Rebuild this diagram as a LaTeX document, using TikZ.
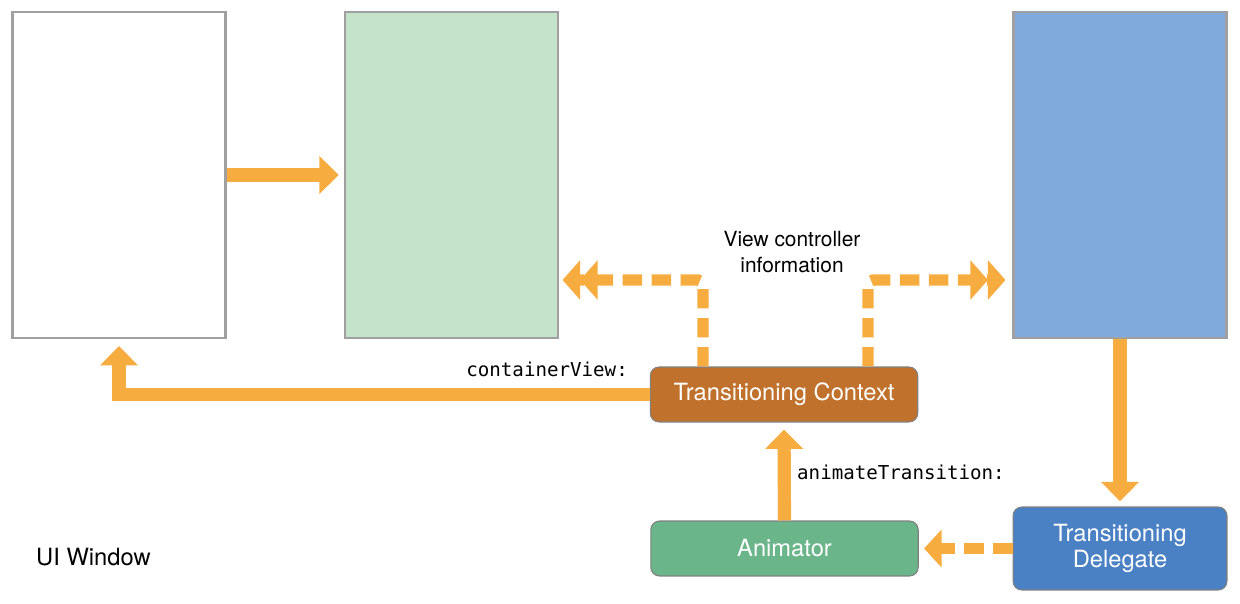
\documentclass[tikz,border=0pt]{standalone}
\usepackage{fontspec}
\setmainfont{TeX Gyre Heros}
\setmonofont{DejaVu Sans Mono}
\usetikzlibrary{arrows.meta,positioning}
\definecolor{arroworange}{HTML}{F7AC40}
\definecolor{framegray}{HTML}{A0A0A0}
\definecolor{fromgreen}{HTML}{C5E3CA}
\definecolor{toblue}{HTML}{80AADB}
\definecolor{ctxbrown}{HTML}{C0722D}
\definecolor{animgreen}{HTML}{6AB58A}
\definecolor{delegblue}{HTML}{4A80C4}
\tikzset{
    viewbox/.style={draw=framegray,line width=1.2pt,minimum width=4.26cm,minimum height=6.52cm,inner sep=0pt},
    rolebox/.style={draw=gray,line width=0.6pt,rounded corners=5pt,text=white,font=\fontsize{13.5}{15}\selectfont,minimum width=5.35cm,minimum height=1.1cm,align=center,inner sep=0pt},
    fatarrow/.style={draw=arroworange,line width=7.5pt,-{Triangle[width=21pt,length=11pt]}},
    dasharrow/.style={draw=arroworange,line width=6.5pt,dash pattern=on 11pt off 5.5pt,-{Triangle[width=21pt,length=10pt]}},
    doublearrow/.style={draw=arroworange,line width=6.5pt,dash pattern=on 11pt off 5.5pt,rounded corners=3pt,-{Triangle[width=22pt,length=10pt]Triangle[width=22pt,length=10pt]}},
    plainlabel/.style={font=\fontsize{11.9}{14.7}\selectfont,align=center},
    codelabel/.style={font=\ttfamily\fontsize{10.9}{13}\selectfont}
}
\begin{document}
\begin{tikzpicture}[x=0.02cm,y=-0.02cm]
    \useasboundingbox (0,0) rectangle (1240,604);
    % the three views
    \node [viewbox,fill=white] (win) at (119,175) {};
    \node [viewbox,fill=fromgreen] (from) at (451.5,175) {};
    \node [viewbox,fill=toblue] (to) at (1120,175) {};
    % the objects
    \node [rolebox,fill=ctxbrown] (ctx) at (784,394.5) {Transitioning Context};
    \node [rolebox,fill=animgreen] (anim) at (784.5,548.5) {Animator};
    \node [rolebox,fill=delegblue,minimum width=4.28cm,minimum height=1.66cm,font=\fontsize{13.5}{14.7}\selectfont] (deleg) at (1120,548.5) {Transitioning\\Delegate};
    % labels
    \node [plainlabel,font=\fontsize{13.5}{15}\selectfont,anchor=west] (uiwin) at (30,557) {UI Window};
    \node [plainlabel] (info) at (792,252) {View controller\\information};
    \node [codelabel,anchor=east] (cview) at (634,369) {containerView:};
    \node [codelabel,anchor=west] (animtr) at (791,472) {animateTransition:};
    % arrows
    \draw [fatarrow,shorten >=3pt] (win.east) -- (from.west);
    \draw [fatarrow,shorten >=4pt] (ctx.west) -| (win.south);
    \draw [fatarrow,shorten >=4pt] (anim.north) -- (ctx.south);
    \draw [fatarrow,shorten >=3pt] (to.south) -- (deleg.north);
    \draw [dasharrow,shorten >=3pt] (deleg.west) -- (anim.east);
    \coordinate (infoL) at (703,280);
    \coordinate (infoR) at (868,280);
    \draw [doublearrow,shorten >=2pt] (ctx.north -| infoL) -- (infoL) -- (infoL -| from.east);
    \draw [doublearrow,shorten >=4pt] (ctx.north -| infoR) -- (infoR) -- (infoR -| to.west);
\end{tikzpicture}
\end{document}
